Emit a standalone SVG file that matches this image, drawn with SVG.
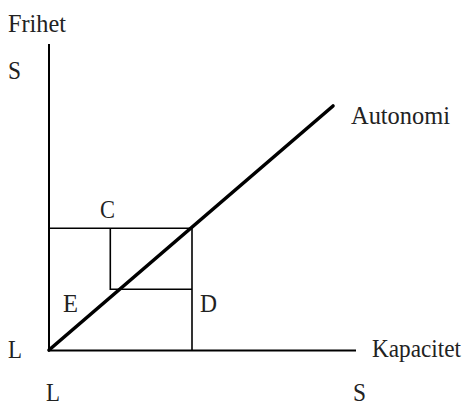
<svg xmlns="http://www.w3.org/2000/svg" width="467" height="405" viewBox="0 0 467 405">
<style>
.t{font-family:'Liberation Serif','Times New Roman',serif;font-size:25px;fill:#222}
.ln{stroke:#000;stroke-width:1.6;fill:none}
.ax{stroke:#000;stroke-width:2;fill:none}
.dg{stroke:#000;stroke-width:3.6;fill:none;stroke-linecap:round}
</style>
<rect width="467" height="405" fill="#fff"/>
<g id="connectors">
<line class="ax" x1="49" y1="44" x2="49" y2="351"/>
<line class="ax" x1="48" y1="350.5" x2="356" y2="350.5"/>
<line class="ln" x1="49" y1="228.3" x2="192" y2="228.3"/>
<line class="ln" x1="192" y1="228" x2="192" y2="350"/>
<polyline class="ln" points="110.3,228 110.3,289.3 192,289.3"/>
<line class="dg" x1="49" y1="350" x2="333" y2="106"/>
</g>
<g id="labels" class="t">
<text x="8" y="32" textLength="58" lengthAdjust="spacingAndGlyphs">Frihet</text>
<text x="8" y="79" textLength="13" lengthAdjust="spacingAndGlyphs">S</text>
<text x="351" y="124" textLength="99" lengthAdjust="spacingAndGlyphs">Autonomi</text>
<text x="100" y="218" textLength="15" lengthAdjust="spacingAndGlyphs">C</text>
<text x="63" y="312" textLength="15" lengthAdjust="spacingAndGlyphs">E</text>
<text x="200" y="312" textLength="17" lengthAdjust="spacingAndGlyphs">D</text>
<text x="8" y="358" textLength="14" lengthAdjust="spacingAndGlyphs">L</text>
<text x="372" y="357" textLength="89" lengthAdjust="spacingAndGlyphs">Kapacitet</text>
<text x="46" y="401" textLength="14" lengthAdjust="spacingAndGlyphs">L</text>
<text x="353" y="401" textLength="13" lengthAdjust="spacingAndGlyphs">S</text>
</g>
</svg>
